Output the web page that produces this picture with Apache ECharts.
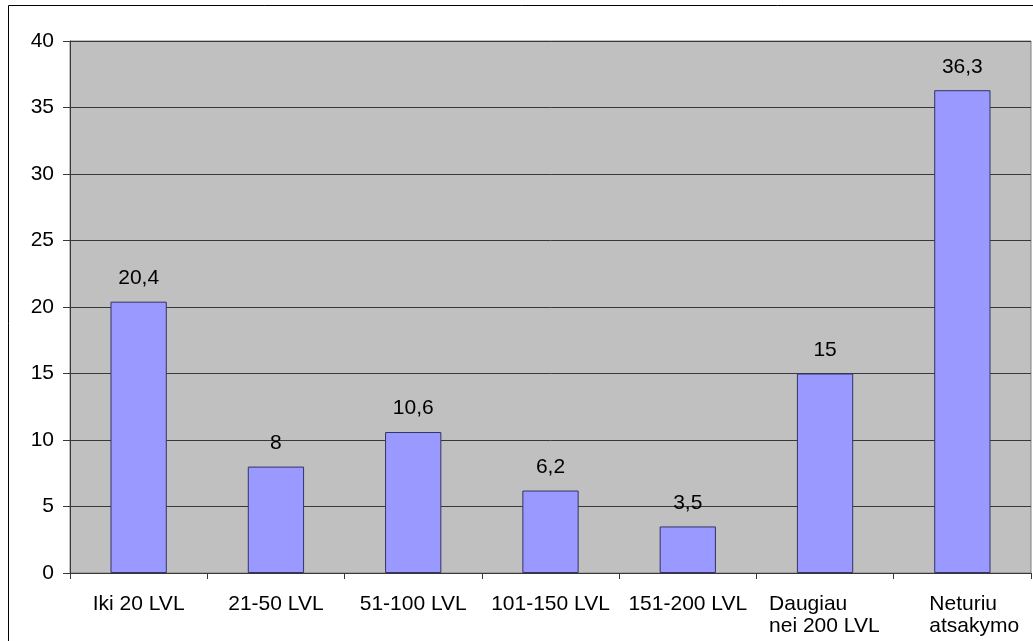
<!DOCTYPE html>
<html>
<head>
<meta charset="utf-8">
<script src="https://cdn.jsdelivr.net/npm/echarts@6/dist/echarts.min.js"></script>
<style>
html,body{margin:0;padding:0;background:#fff;}
#c{width:1033px;height:641px;}
</style>
</head>
<body>
<div id="c"></div>
<script>
const categories = ['Iki 20 LVL', '21-50 LVL', '51-100 LVL', '101-150 LVL', '151-200 LVL', 'Daugiau\nnei 200 LVL', 'Neturiu\natsakymo'];
const values = [20.4, 8, 10.6, 6.2, 3.5, 15, 36.3];
const yTicks = [0, 5, 10, 15, 20, 25, 30, 35, 40];

const chart = echarts.init(document.getElementById('c'), null, {renderer: 'canvas'});
const FONT = 'Liberation Sans, Arial, sans-serif';
const LINE = '#383838';
chart.setOption({
  animation: false,
  backgroundColor: '#ffffff',
  grid: {left: 70, top: 41, right: 2, bottom: 68, show: true, backgroundColor: '#c0c0c0', borderColor: '#808080', borderWidth: 1},
  graphic: [{
    type: 'rect', silent: true, z: 100,
    shape: {x: 8.5, y: 5.5, width: 1100, height: 700},
    style: {fill: null, stroke: '#000', lineWidth: 1}
  }],
  xAxis: {
    type: 'category',
    data: categories,
    axisLine: {show: true, lineStyle: {color: LINE, width: 1}},
    axisTick: {show: true, length: 6, alignWithLabel: false, lineStyle: {color: LINE}},
    splitLine: {show: false},
    axisLabel: {
      interval: 0, margin: 20, color: '#000', fontFamily: FONT, fontSize: 21, lineHeight: 22,
      formatter: function (v, i) {
        if (v.indexOf('\n') < 0) return v;
        const st = i === categories.length - 1 ? 'r' : 'l';
        return v.split('\n').map(s => '{' + st + '|' + s + '}').join('\n');
      },
      rich: {
        l: {width: 112, align: 'left', fontFamily: FONT, fontSize: 21, lineHeight: 22, color: '#000'},
        r: {width: 91, align: 'left', padding: [0, 0, 0, 25], fontFamily: FONT, fontSize: 21, lineHeight: 22, color: '#000'}
      }
    }
  },
  yAxis: {
    type: 'value',
    min: yTicks[0], max: yTicks[yTicks.length - 1], interval: yTicks[1] - yTicks[0],
    axisLine: {show: true, lineStyle: {color: LINE, width: 1}},
    axisTick: {show: true, length: 7, lineStyle: {color: LINE}},
    splitLine: {show: true, lineStyle: {color: LINE, width: 1}},
    axisLabel: {margin: 16, color: '#000', fontFamily: FONT, fontSize: 21}
  },
  series: [{
    type: 'bar',
    data: values,
    barWidth: '41%',
    itemStyle: {color: '#9999ff', borderColor: '#333366', borderWidth: 1},
    label: {
      show: true, position: 'top', distance: 13, color: '#000', fontFamily: FONT, fontSize: 21,
      formatter: p => String(p.value).replace('.', ',')
    }
  }]
});
</script>
</body>
</html>
